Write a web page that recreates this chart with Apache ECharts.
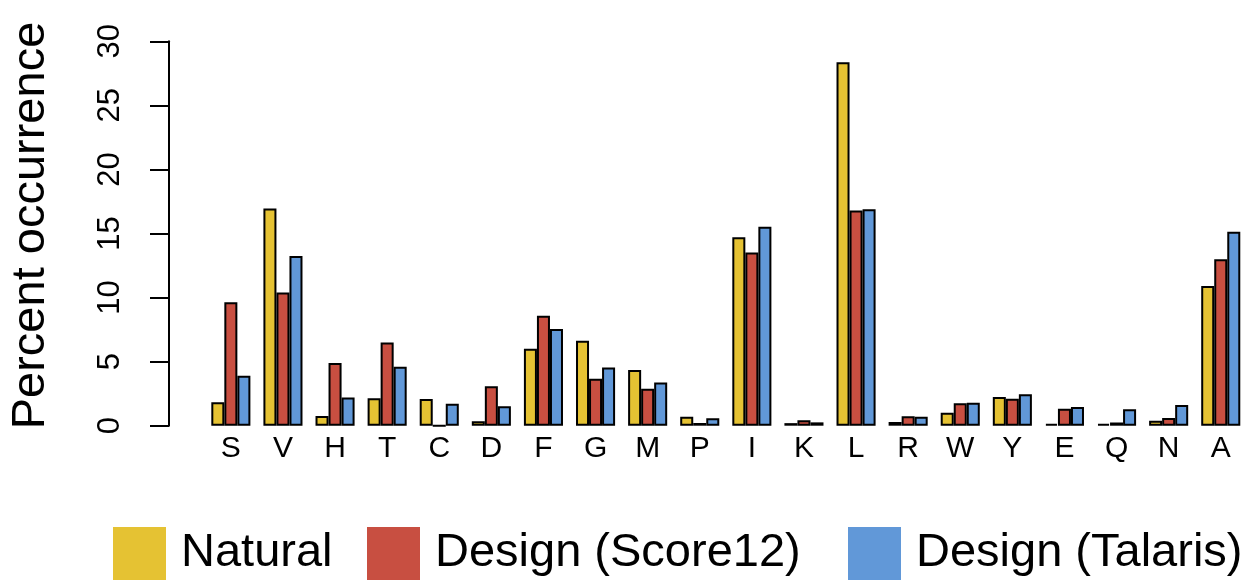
<!DOCTYPE html>
<html>
<head>
<meta charset="utf-8">
<script src="https://cdn.jsdelivr.net/npm/echarts@6/dist/echarts.min.js"></script>
<style>
html,body{margin:0;padding:0;background:#fff;}
#chart{width:1250px;height:582px;}
</style>
</head>
<body>
<div id="chart"></div>
<script>
const categories = ['S','V','H','T','C','D','F','G','M','P','I','K','L','R','W','Y','E','Q','N','A'];
const natural  = [1.83,16.96,0.76,2.14,2.08,0.34,6.0,6.63,4.34,0.70,14.7,0.2,28.37,0.29,1.01,2.24,0.15,0.15,0.39,10.9];
const score12  = [9.63,10.4,4.89,6.5,0,3.07,8.58,3.67,2.89,0.21,13.52,0.42,16.8,0.73,1.75,2.1,1.33,0.25,0.6,13.0];
const talaris  = [3.9,13.24,2.2,4.6,1.72,1.51,7.54,4.55,3.38,0.58,15.52,0.26,16.9,0.7,1.8,2.45,1.46,1.28,1.61,15.13];
const seriesNames = ['Natural','Design (Score12)','Design (Talaris)'];
const yTicks = [0,5,10,15,20,25,30];

const colors = ['#E5C233','#C84F41','#6198D8'];
const font = 'Liberation Sans, Arial, Helvetica, sans-serif';
const legendLefts = [113, 367, 848];

const chart = echarts.init(document.getElementById('chart'), null, {renderer:'canvas'});
const mk = (name, data, i) => ({
  name, type:'bar', data,
  barGap:'0%', barCategoryGap:'25%',
  itemStyle:{color:colors[i], borderColor:'#000', borderWidth:2},
  emphasis:{disabled:true},
  animation:false
});
chart.setOption({
  animation:false,
  color:colors,
  grid:{left:201.5, right:3.2, top:41.3, bottom:156.3, containLabel:false},
  legend: seriesNames.map((n, i) => ({
    left:legendLefts[i], top:527, padding:0,
    itemWidth:53, itemHeight:53,
    icon:'rect', selectedMode:false,
    data:[n],
    width:600,
    textStyle:{fontSize:47, color:'#000', fontFamily:font, padding:[0,0,0,10]},
    itemStyle:{borderWidth:0}
  })),
  xAxis:{
    type:'category', data:categories,
    axisLine:{show:false}, axisTick:{show:false},
    axisLabel:{fontSize:30, color:'#000', fontFamily:font, margin:8, interval:0}
  },
  yAxis:{
    type:'value', min:yTicks[0], max:yTicks[yTicks.length-1], interval:5,
    offset:35.8,
    name:'Percent occurrence', nameLocation:'middle', nameGap:114, nameRotate:90,
    nameTextStyle:{fontSize:47, color:'#000', fontFamily:font, padding:[0,0,0,16]},
    axisLine:{show:true, lineStyle:{color:'#000', width:2}},
    axisTick:{show:true, length:19, lineStyle:{color:'#000', width:2}},
    axisLabel:{rotate:90, fontSize:31, color:'#000', fontFamily:font, margin:43},
    splitLine:{show:false}
  },
  series:[mk(seriesNames[0], natural, 0), mk(seriesNames[1], score12, 1), mk(seriesNames[2], talaris, 2)]
});
</script>
</body>
</html>
